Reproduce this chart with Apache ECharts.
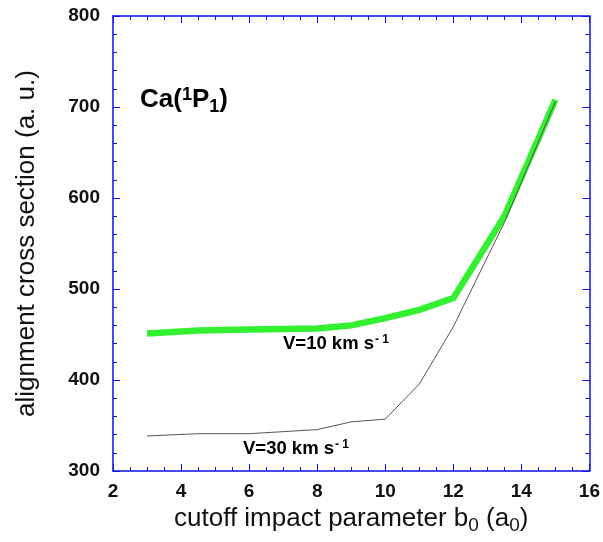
<!DOCTYPE html>
<html>
<head>
<meta charset="utf-8">
<script src="https://cdn.jsdelivr.net/npm/echarts@6/dist/echarts.min.js"></script>
<style>html,body{margin:0;padding:0;background:#fff}#c{width:603px;height:542px}</style>
</head>
<body>
<div id="c"></div>
<script>
// Data
var cutoffB0 = [3, 4.5, 6, 8, 9, 10, 11, 12, 13.5, 15];
var v10Values = [451, 454.5, 455.5, 456.5, 460, 468, 477, 490, 580, 708];
var v30Values = [338.5, 341, 341, 345.5, 354, 357, 395.5, 458.5, 573, 706];
var xTicks = [2, 4, 6, 8, 10, 12, 14, 16];
var yTicks = [300, 400, 500, 600, 700, 800];

var FONT = '"Liberation Sans", Arial, sans-serif';
var AXIS_BLUE = '#1010e8';

function pairs(xs, ys) { return xs.map(function (x, i) { return [x, ys[i]]; }); }

var chart = echarts.init(document.getElementById('c'), null, { renderer: 'canvas' });

var tickCommon = { inside: true, length: 7, lineStyle: { color: AXIS_BLUE, width: 1 } };
var minorCommon = { show: true, length: 4, lineStyle: { color: AXIS_BLUE, width: 1 } };

chart.setOption({
  animation: false,
  backgroundColor: '#ffffff',
  grid: { left: 113, right: 10, top: 16, bottom: 71, containLabel: false },
  xAxis: [{
    type: 'value', min: xTicks[0], max: xTicks[xTicks.length - 1], interval: 2,
    axisLine: { show: true, onZero: false, lineStyle: { color: AXIS_BLUE, width: 1.5 } },
    axisTick: Object.assign({}, tickCommon),
    minorTick: Object.assign({ splitNumber: 4 }, minorCommon),
    splitLine: { show: false },
    axisLabel: { color: '#111', fontFamily: FONT, fontWeight: 'bold', fontSize: 19, margin: 11 },
    name: 'cutoff impact parameter b{sub|0} (a{sub|0})',
    nameLocation: 'middle', nameGap: 27,
    nameTextStyle: {
      color: '#111', fontFamily: FONT, fontSize: 26, verticalAlign: 'top',
      rich: { sub: { fontFamily: FONT, fontSize: 19, color: '#111', padding: [14, 0, 0, 0] } }
    }
  }, {
    type: 'value', position: 'top', min: xTicks[0], max: xTicks[xTicks.length - 1], interval: 2,
    axisLine: { show: true, onZero: false, lineStyle: { color: AXIS_BLUE, width: 1.5 } },
    axisTick: Object.assign({}, tickCommon),
    minorTick: Object.assign({ splitNumber: 4 }, minorCommon),
    splitLine: { show: false },
    axisLabel: { show: false }
  }],
  yAxis: [{
    type: 'value', min: yTicks[0], max: yTicks[yTicks.length - 1], interval: 100,
    axisLine: { show: true, onZero: false, lineStyle: { color: AXIS_BLUE, width: 1.5 } },
    axisTick: Object.assign({}, tickCommon),
    minorTick: Object.assign({ splitNumber: 5 }, minorCommon),
    splitLine: { show: false },
    axisLabel: { color: '#111', fontFamily: FONT, fontWeight: 'bold', fontSize: 19, margin: 13 },
    name: 'alignment cross section (a. u.)',
    nameLocation: 'middle', nameGap: 73,
    nameTextStyle: { color: '#111', fontFamily: FONT, fontSize: 26 }
  }, {
    type: 'value', position: 'right', min: yTicks[0], max: yTicks[yTicks.length - 1], interval: 100,
    axisLine: { show: true, onZero: false, lineStyle: { color: AXIS_BLUE, width: 1.5 } },
    axisTick: Object.assign({}, tickCommon),
    minorTick: Object.assign({ splitNumber: 5 }, minorCommon),
    splitLine: { show: false },
    axisLabel: { show: false }
  }],
  series: [{
    name: 'V=10 km/s', type: 'line', xAxisIndex: 0, yAxisIndex: 0,
    data: pairs(cutoffB0, v10Values), showSymbol: false, symbol: 'none',
    lineStyle: { color: '#33f030', width: 6.5, join: 'miter' }, z: 2
  }, {
    name: 'V=30 km/s', type: 'line', xAxisIndex: 0, yAxisIndex: 0,
    data: pairs(cutoffB0, v30Values), showSymbol: false, symbol: 'none',
    lineStyle: { color: '#555555', width: 1 }, z: 3
  }],
  graphic: [{
    type: 'text', left: 140, top: 86,
    style: {
      text: '{b|Ca(}{sup|1}{b|P}{sub|1}{b|)}',
      rich: {
        b: { fontFamily: FONT, fontWeight: 'bold', fontSize: 26, color: '#111' },
        sup: { fontFamily: FONT, fontWeight: 'bold', fontSize: 18, color: '#111', padding: [0, 0, 10, 0] },
        sub: { fontFamily: FONT, fontWeight: 'bold', fontSize: 18, color: '#111', padding: [14, 0, 0, 0] }
      }
    }
  }, {
    type: 'text', left: 283, top: 334,
    style: {
      text: '{b|V=10 km s}{sup|- 1}',
      rich: {
        b: { fontFamily: FONT, fontWeight: 'bold', fontSize: 18.5, color: '#111' },
        sup: { fontFamily: FONT, fontWeight: 'bold', fontSize: 12, color: '#111', padding: [0, 0, 8, 1] }
      }
    }
  }, {
    type: 'text', left: 243, top: 439,
    style: {
      text: '{b|V=30 km s}{sup|- 1}',
      rich: {
        b: { fontFamily: FONT, fontWeight: 'bold', fontSize: 18.5, color: '#111' },
        sup: { fontFamily: FONT, fontWeight: 'bold', fontSize: 12, color: '#111', padding: [0, 0, 8, 1] }
      }
    }
  }]
});
</script>
</body>
</html>
